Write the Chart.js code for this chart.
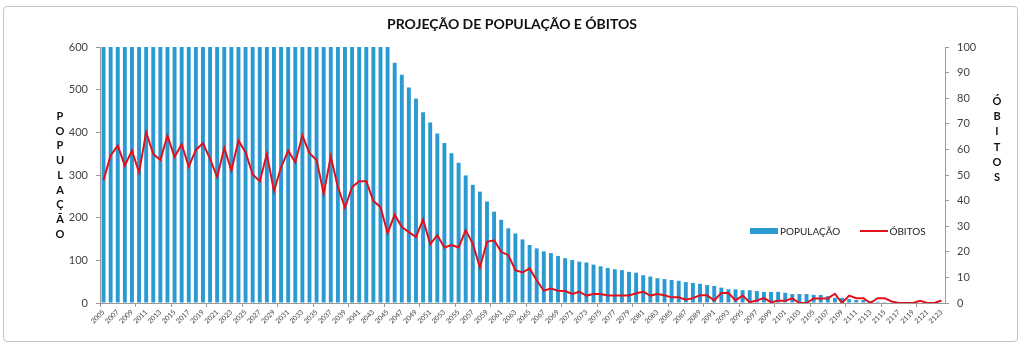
<!DOCTYPE html>
<html>
<head>
<meta charset="utf-8">
<script src="https://cdn.jsdelivr.net/npm/chart.js@4"></script>
<style>
  body { margin: 0; background: #fff; }
  #wrap { position: relative; width: 1024px; height: 348px; font-family: Lato, "Open Sans", sans-serif; }
  #frame { position: absolute; left: 3px; top: 6px; width: 1013px; height: 334px; border: 1px solid #c4c4c4; border-radius: 4px; pointer-events: none; }
  .vtitle { position: absolute; font-weight: bold; font-size: 11px; text-align: center; color: #111; width: 14px; }
  #legend { position: absolute; left: 750px; top: 225px; display: flex; align-items: center; font-size: 10px; color: #222; }
  #legend .item { display: flex; align-items: center; margin-right: 20px; }
</style>
</head>
<body>
<div id="wrap">
  <canvas id="myChart" width="1024" height="348"></canvas>
  <div id="frame"></div>
  <div class="vtitle" id="yTitle" style="left:53px; top:109px; line-height:14.7px;"></div>
  <div class="vtitle" id="y1Title" style="left:990px; top:93px; line-height:15.2px;"></div>
  <div id="legend"></div>
</div>
<script>
document.addEventListener("DOMContentLoaded", function () {
    // anos 2005 - 2123
    const anos = [];
    for (let a = 2005; a <= 2123; a++) anos.push(String(a));

    // populacao (barras), valores acima de 600 ficam cortados no topo
    const populacao = [
        600, 600, 600, 600, 600, 600, 600, 600, 600, 600,
        600, 600, 600, 600, 600, 600, 600, 600, 600, 600,
        600, 600, 600, 600, 600, 600, 600, 600, 600, 600,
        600, 600, 600, 600, 600, 600, 600, 600, 600, 600,
        600,
        563, 535, 505, 479, 447, 423, 397, 375, 351, 329,
        299, 277, 261, 238, 214, 195, 175, 163, 149, 136,
        128, 121, 117, 110, 105, 101, 97, 95, 90, 86,
        82, 79, 77, 73, 71, 65, 62, 58, 56, 54,
        52, 49, 47, 45, 42, 40, 36, 32, 32, 30,
        30, 28, 26, 26, 26, 24, 21, 21, 21, 19,
        19, 16, 12, 12, 9, 7, 7, 5, 3, 2,
        1, 0, 0, 0, 0, 0, 0, 0
    ];

    // obitos (linha, eixo da direita)
    const obitos = [
        48, 57.6, 61.5, 53.7, 59.5, 51, 66.7, 58.2, 55.9, 65.4,
        57, 62, 53.3, 59.8, 62.4, 56.3, 49.2, 60.6, 51.8, 63.4,
        58.9, 50.2, 47.6, 58.2, 43.7, 53, 59.5, 55, 65.4, 58.5,
        55.9, 42.7, 57.2, 45.3, 37.2, 45.3, 47.6, 47.6, 39.8, 37.5,
        27.3, 34.5, 29.7, 27.7, 25.8, 32.6, 23, 26.5, 21.7, 22.6,
        21.7, 28.4, 23.2, 13.9, 23.9, 24.5, 20, 18.7, 12.8, 11.9,
        13.5, 8.9, 4.8, 5.6, 4.8, 4.7, 3.5, 4.4, 2.9, 3.5,
        3.5, 2.9, 2.9, 2.9, 2.9, 3.8, 4.4, 2.9, 3.5, 3,
        2.2, 2.2, 1.3, 1.9, 3, 3, 1, 3.9, 3.9, 1,
        2.9, 0.3, 1, 1.9, 0.3, 0.9, 0.9, 1.8, 0, 0,
        1.8, 1.8, 1.8, 3.6, 0, 2.9, 1.9, 1.9, 0, 1.9,
        1.9, 0.6, 0, 0, 0, 0.9, 0, 0, 1
    ];

    const azul = '#2b9ad3';
    const vermelho = '#e3101b';
    const cinza = '#9a9a9a';

    const dados = {
        labels: anos,
        datasets: [{
            type: 'line',
            label: 'ÓBITOS',
            data: obitos,
            yAxisID: 'y1',
            borderColor: vermelho,
            backgroundColor: vermelho,
            borderWidth: 2,
            pointRadius: 0,
            tension: 0,
            order: 0
        }, {
            type: 'bar',
            label: 'POPULAÇÃO',
            data: populacao,
            yAxisID: 'y',
            backgroundColor: azul,
            barPercentage: 0.55,
            categoryPercentage: 1,
            order: 1
        }]
    };

    const config = {
        data: dados,
        options: {
            responsive: false,
            animation: false,
            layout: { padding: 0 },
            plugins: {
                title: {
                    display: true,
                    text: 'PROJEÇÃO DE POPULAÇÃO E ÓBITOS',
                    color: '#111',
                    font: { family: 'Lato', size: 14, weight: 'bold' },
                    padding: { top: 16, bottom: 14.2 }
                },
                legend: { display: false },
                tooltip: { enabled: false }
            },
            scales: {
                x: {
                    offset: true,
                    grid: {
                        display: true,
                        drawOnChartArea: false,
                        offset: true,
                        tickLength: 4,
                        color: ctx => (ctx.index % 5 === 0 ? cinza : 'rgba(0,0,0,0)')
                    },
                    border: { color: cinza },
                    ticks: {
                        autoSkip: false,
                        minRotation: 45,
                        maxRotation: 45,
                        padding: 1,
                        color: '#444',
                        font: { family: 'Lato', size: 7 },
                        callback: (v, i) => (i % 2 === 0 ? anos[i] : '')
                    },
                    afterFit: s => { s.height = 45; }
                },
                y: {
                    position: 'left',
                    min: 0,
                    max: 600,
                    grid: { drawOnChartArea: false, tickLength: 4, color: cinza },
                    border: { color: cinza },
                    ticks: {
                        stepSize: 100,
                        padding: 8,
                        color: '#444',
                        font: { family: 'Lato', size: 11 }
                    },
                    afterFit: s => { s.width = 100; }
                },
                y1: {
                    position: 'right',
                    min: 0,
                    max: 100,
                    grid: { drawOnChartArea: false, tickLength: 4, color: cinza },
                    border: { color: cinza },
                    ticks: {
                        stepSize: 10,
                        padding: 8,
                        color: '#444',
                        font: { family: 'Lato', size: 11 }
                    },
                    afterFit: s => { s.width = 79; }
                }
            }
        }
    };

    new Chart(document.getElementById('myChart'), config);

    // titulos verticais com letras empilhadas
    document.getElementById('yTitle').innerHTML = 'POPULAÇÃO'.split('').join('<br>');
    document.getElementById('y1Title').innerHTML = 'ÓBITOS'.split('').join('<br>');

    // legenda dentro da area do grafico
    const legenda = document.getElementById('legend');
    [dados.datasets[1], dados.datasets[0]].forEach(ds => {
        const item = document.createElement('div');
        item.className = 'item';
        const amostra = document.createElement('span');
        if (ds.type === 'bar') {
            amostra.style.cssText = 'display:inline-block;width:28px;height:6px;margin-right:2px;background:' + ds.backgroundColor;
        } else {
            amostra.style.cssText = 'display:inline-block;width:28px;height:2px;margin-right:1px;background:' + ds.borderColor;
        }
        item.appendChild(amostra);
        item.appendChild(document.createTextNode(ds.label));
        legenda.appendChild(item);
    });
});
</script>
</body>
</html>
